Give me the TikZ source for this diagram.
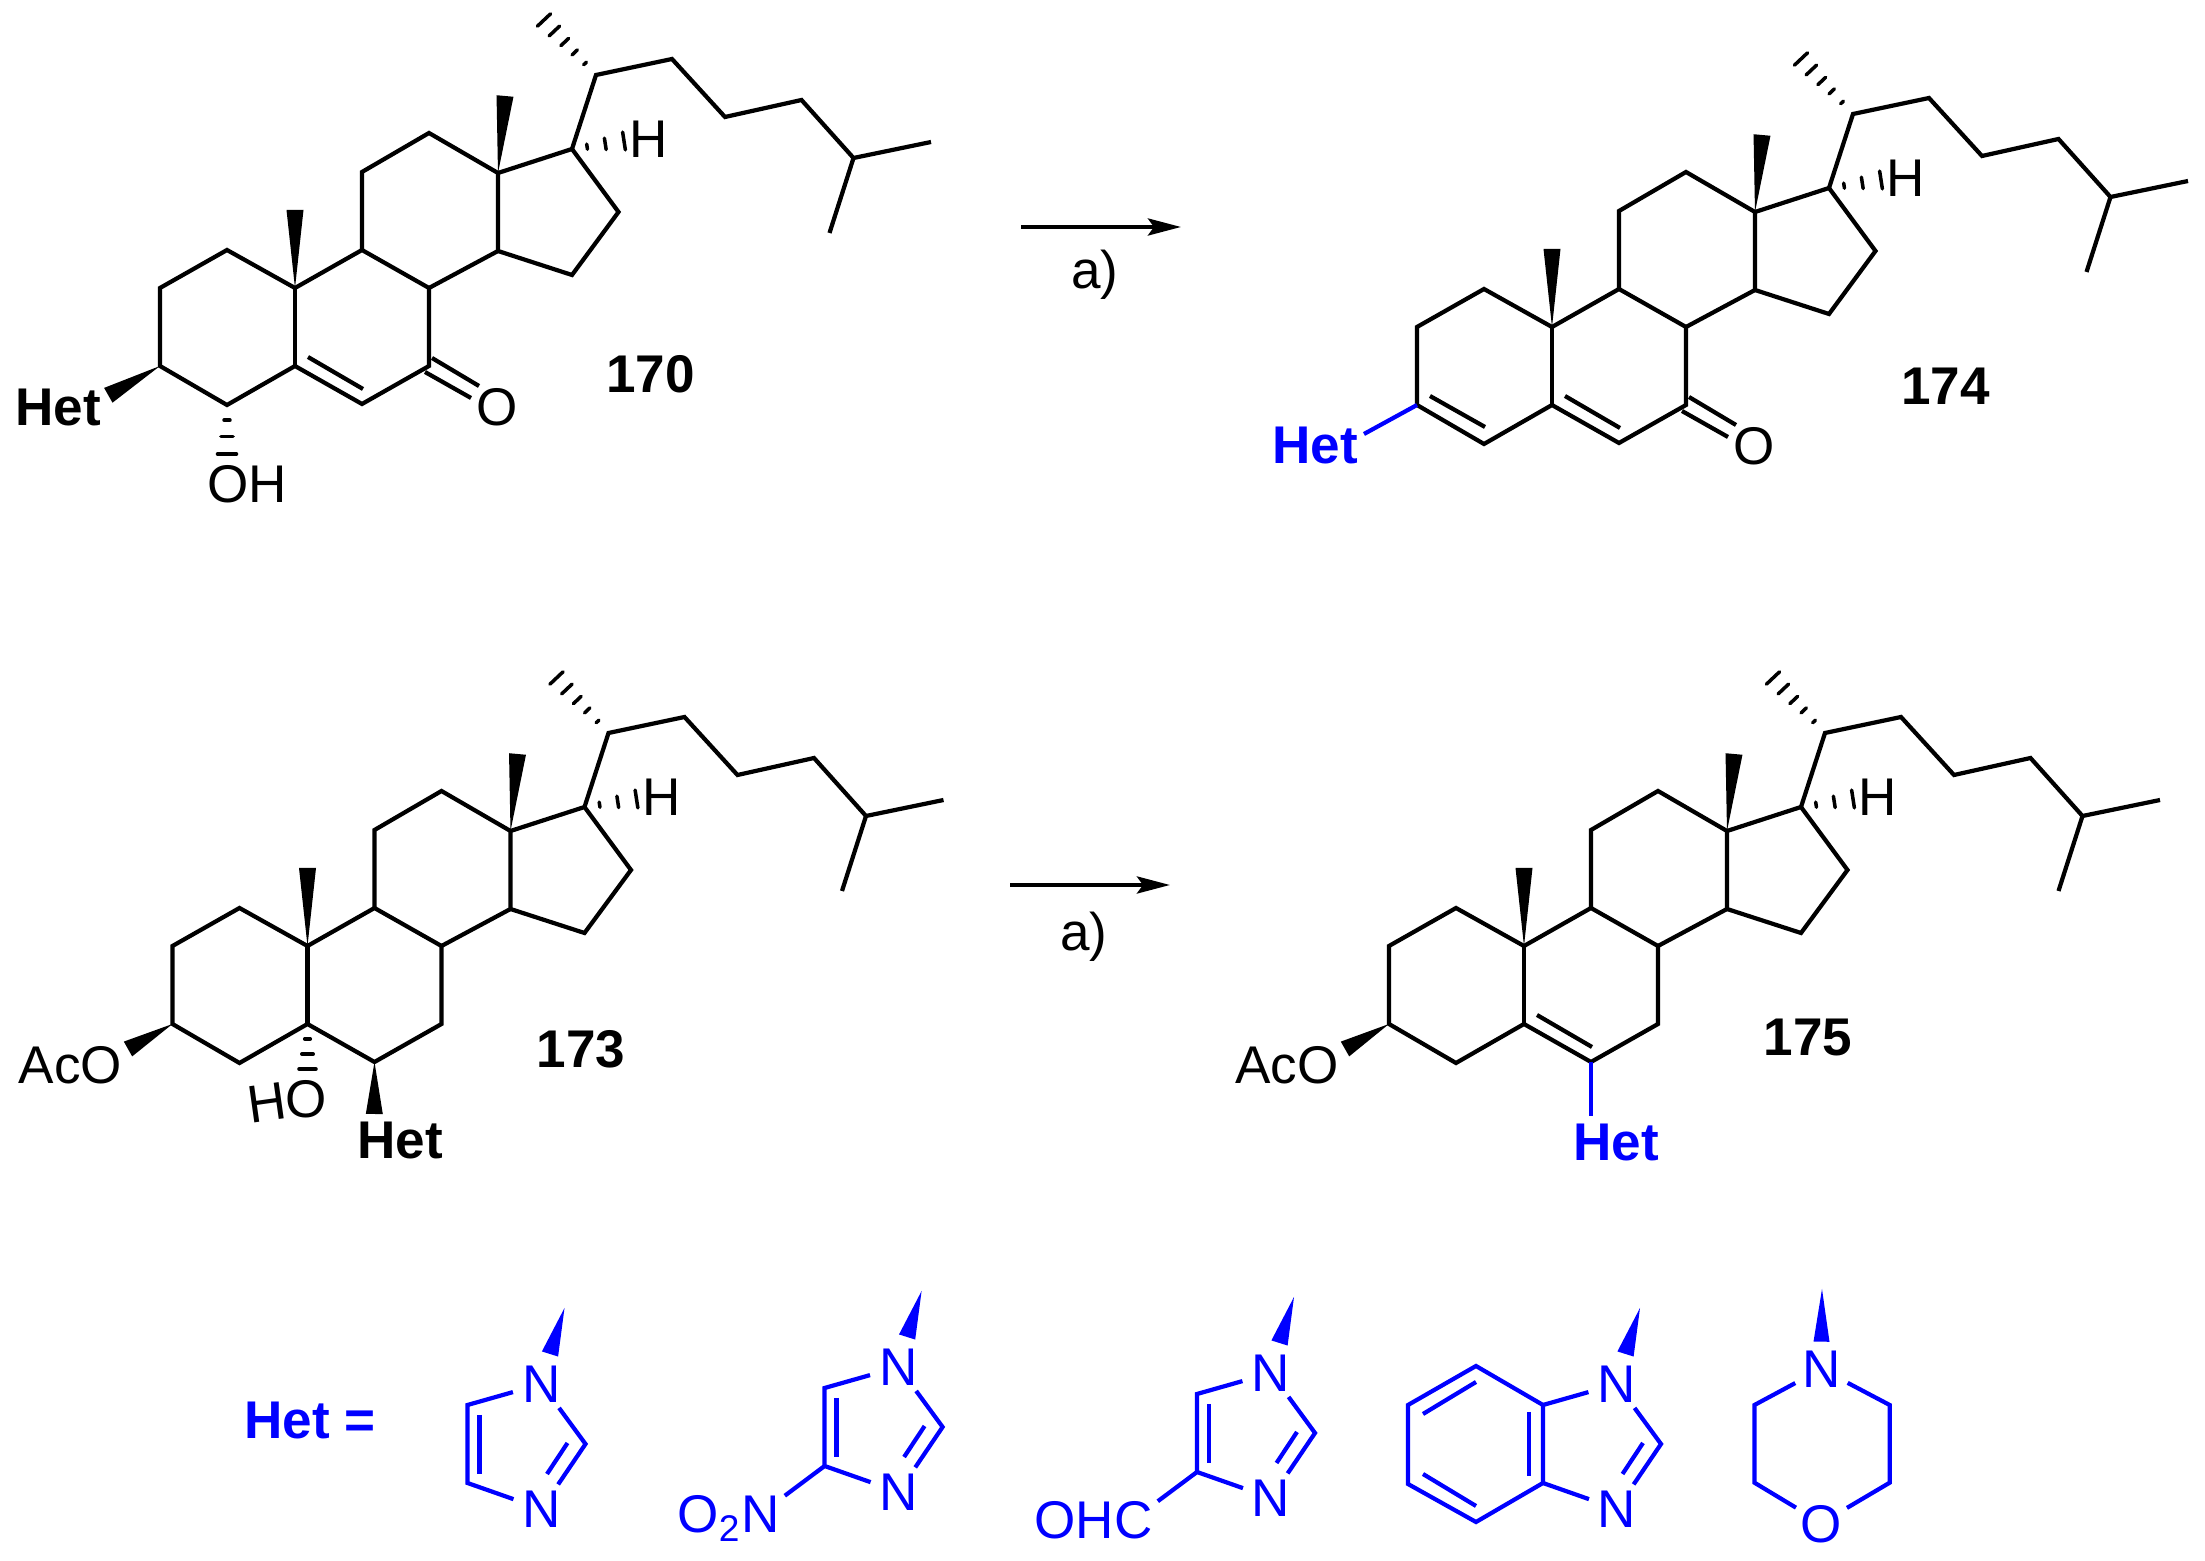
\documentclass[tikz,border=0pt]{standalone}
\usepackage{fontspec}
\setmainfont{Liberation Sans}
\usetikzlibrary{calc,arrows.meta}

\newcommand{\labfont}{\fontsize{15.1}{17}\selectfont}
\tikzset{
  bond/.style={line width=1.2pt},
  hashline/.style={line width=1pt, line cap=round},
  lab/.style={font=\labfont, inner sep=0pt, text height=3.8mm, text depth=0pt},
  boldlab/.style={font=\labfont\bfseries, inner sep=0pt, text height=3.8mm, text depth=0pt},
  atom/.style={lab, circle, minimum size=5.8mm}
}
\newcommand{\wedgebond}[3]{\fill (#1) -- ($(#2)!#3!90:(#1)$) -- ($(#2)!#3!-90:(#1)$) -- cycle;}
\newcommand{\hashbond}[4]{\foreach \t in {#4} \draw[hashline] ($(#1)!\t!(#2)!\t*#3!90:(#1)$) -- ($(#1)!\t!(#2)!\t*#3!-90:(#1)$);}
\newcommand{\steroid}[1]{
  \foreach \n/\xx/\yy in {C1/-68/-38,C2/-135/0,C3/-135/78,C4/-68/117,C5/0/78,C6/67/116,C7/134/78,C8/134/0,C9/67/-38,C10/0/0,
      C11/67/-116,C12/134/-155,C13/203/-115,C14/203/-37,C15/277/-13,C16/323.5/-76,C17/277/-139,C18/210/-192,C19/0/-78,
      C20/301/-213,C21/249/-268,C22/377/-229,C23/430/-171,C24/506.5/-188,C25/558.5/-130,C26/636/-146,C27/534.5/-55,
      Hh/329/-147,Ia/13/69,Ib/68/101,Ic/-122/69,Id/-67/100,Ka/137/70,Kb/184/98,Kc/130/84,Kd/176/110}
    \coordinate (#1\n) at (\xx,\yy);
  \draw[bond] (#1C2) -- (#1C3) -- (#1C4) -- (#1C5) -- (#1C6) -- (#1C7) -- (#1C8) -- (#1C9) -- (#1C10) -- (#1C1) -- cycle;
  \draw[bond] (#1C5) -- (#1C10);
  \draw[bond] (#1C9) -- (#1C11) -- (#1C12) -- (#1C13) -- (#1C14) -- (#1C8);
  \draw[bond] (#1C14) -- (#1C15) -- (#1C16) -- (#1C17) -- (#1C13);
  \draw[bond] (#1C17) -- (#1C20) -- (#1C22) -- (#1C23) -- (#1C24) -- (#1C25) -- (#1C26);
  \draw[bond] (#1C25) -- (#1C27);
  \wedgebond{#1C10}{#1C19}{0.85mm}
  \wedgebond{#1C13}{#1C18}{0.85mm}
  \hashbond{#1C20}{#1C21}{0.9mm}{0.21,0.41,0.6,0.8,1}
  \hashbond{#1C17}{#1Hh}{0.9mm}{0.29,0.64,1}
  \node[lab] (#1H) at (354,-149) {H};
}
\newcommand{\ketone}[1]{
  \draw[bond] (#1Ka) -- (#1Kb);
  \draw[bond] (#1Kc) -- (#1Kd);
  \node[lab] (#1O) at (202,119) {O};
}
\newcommand{\imidring}[1]{
  \foreach \n/\xx/\yy in {C5/-74/21,C4/-74/99,C2/44/60,Wt/23/-76,Wb/8.5/-30,Da/26/59,Db/5.5/90,Dc/-62/31,Dd/-62/90}
    \coordinate (#1\n) at (\xx,\yy);
  \node[atom] (#1N1) at (0,0) {N};
  \node[atom] (#1N3) at (0,125) {N};
  \draw[bond] (#1N1) -- (#1C5) -- (#1C4) -- (#1N3);
  \draw[bond] (#1N1) -- (#1C2) -- (#1N3);
  \draw[bond] (#1Da) -- (#1Db);
  \wedgebond{#1Wt}{#1Wb}{0.85mm}
}

\begin{document}
\begin{tikzpicture}[x=0.1mm, y=-0.1mm]
  \useasboundingbox (0,0) rectangle (2205,1561);

  \begin{scope}[shift={(295,288)}]
    \steroid{a}
    \ketone{a}
    \draw[bond] (aIa) -- (aIb);
  \end{scope}
  \coordinate (aHw) at (108.3,395.3);
  \coordinate (aOh) at (227,454);
  \wedgebond{aC3}{aHw}{0.85mm}
  \hashbond{aC4}{aOh}{0.95mm}{0.31,0.64,1}
  \node[boldlab] (aHet) at (58,407) {Het};
  \node[lab] (aOH) at (247,484) {OH};
  \node[boldlab] (aNum) at (650.5,373.5) {170};

  \coordinate (ar1a) at (1021,227);
  \coordinate (ar1b) at (1181,227);
  \draw[bond,-{Stealth[length=3.3mm,width=1.7mm,inset=0.6mm]}] (ar1a) -- (ar1b);
  \node[lab] (ar1t) at (1095,269.5) {a)};

  \begin{scope}[shift={(1552,327)}]
    \steroid{b}
    \ketone{b}
    \draw[bond] (bIa) -- (bIb);
    \draw[bond] (bIc) -- (bId);
  \end{scope}
  \coordinate (bHe) at (1364,434);
  \draw[bond,blue] (bC3) -- (bHe);
  \node[boldlab,text=blue] (bHet) at (1315,445) {Het};
  \node[boldlab] (bNum) at (1945.5,386) {174};

  \begin{scope}[shift={(307.5,946)}]
    \steroid{c}
  \end{scope}
  \coordinate (cAw) at (128,1049);
  \coordinate (cHw) at (374.3,1114);
  \coordinate (cOh) at (307.5,1069);
  \wedgebond{cC3}{cAw}{0.85mm}
  \wedgebond{cC6}{cHw}{0.85mm}
  \hashbond{cC5}{cOh}{0.85mm}{0.33,0.67,1}
  \node[lab] (cAc) at (70.5,1065) {AcO};
  \node[lab,rotate=8] (cHa) at (267,1102) {H};
  \node[lab] (cOa) at (306,1098.5) {O};
  \node[boldlab] (cHet) at (400,1140) {Het};
  \node[boldlab] (cNum) at (581,1049) {173};

  \coordinate (ar2a) at (1010,885);
  \coordinate (ar2b) at (1170,885);
  \draw[bond,-{Stealth[length=3.3mm,width=1.7mm,inset=0.6mm]}] (ar2a) -- (ar2b);
  \node[lab] (ar2t) at (1084,931.5) {a)};

  \begin{scope}[shift={(1524,946)}]
    \steroid{d}
    \draw[bond] (dIa) -- (dIb);
  \end{scope}
  \coordinate (dAw) at (1345,1049);
  \coordinate (dHe) at (1591,1116);
  \wedgebond{dC3}{dAw}{0.85mm}
  \draw[bond,blue] (dC6) -- (dHe);
  \node[lab] (dAc) at (1287,1065) {AcO};
  \node[boldlab,text=blue] (dHet) at (1616,1142) {Het};
  \node[boldlab] (dNum) at (1808,1037) {175};

  \begin{scope}[color=blue]
    \node[boldlab,text=blue] (hetEq) at (310,1419) {Het =};

    \begin{scope}[shift={(541.5,1384)}]
      \imidring{e}
      \draw[bond] (eDc) -- (eDd);
    \end{scope}

    \begin{scope}[shift={(898.6,1367)}]
      \imidring{f}
      \draw[bond] (fDc) -- (fDd);
    \end{scope}
    \node[atom,text=blue] (fNn) at (761,1513.5) {N};
    \node[lab,text=blue,anchor=east] (fOo) at (742,1513.5) {O\textsubscript{2}};
    \draw[bond] (fC4) -- (fNn);

    \begin{scope}[shift={(1271,1373)}]
      \imidring{g}
      \draw[bond] (gDc) -- (gDd);
    \end{scope}
    \node[atom,text=blue] (gCc) at (1134,1519) {C};
    \node[lab,text=blue,anchor=east] (gOh) at (1115,1519) {OH};
    \draw[bond] (gC4) -- (gCc);

    \begin{scope}[shift={(1617,1384)}]
      \imidring{h}
    \end{scope}
    \foreach \n/\xx/\yy in {C7/1476/1366,C6/1408/1405,A5/1408/1484,A4/1476/1522,Ja/1476/1382,Jb/1423/1414,Jc/1423/1474,Jd/1476/1506,Je/1529/1412,Jf/1529/1476}
      \coordinate (h\n) at (\xx,\yy);
    \draw[bond] (hC5) -- (hC7) -- (hC6) -- (hA5) -- (hA4) -- (hC4);
    \draw[bond] (hJa) -- (hJb);
    \draw[bond] (hJc) -- (hJd);
    \draw[bond] (hJe) -- (hJf);

    \node[atom,text=blue] (mN) at (1821.4,1369) {N};
    \node[atom,text=blue] (mO) at (1821.4,1523) {O};
    \foreach \n/\xx/\yy in {Ca/1889.7/1405,Cb/1889.7/1482.7,Cc/1754.5/1482.7,Cd/1754.5/1405,Wt/1822/1289,Wb/1821.5/1341.7}
      \coordinate (m\n) at (\xx,\yy);
    \draw[bond] (mN) -- (mCa) -- (mCb) -- (mO);
    \draw[bond] (mN) -- (mCd) -- (mCc) -- (mO);
    \wedgebond{mWt}{mWb}{0.8mm}
  \end{scope}
\end{tikzpicture}
\end{document}
